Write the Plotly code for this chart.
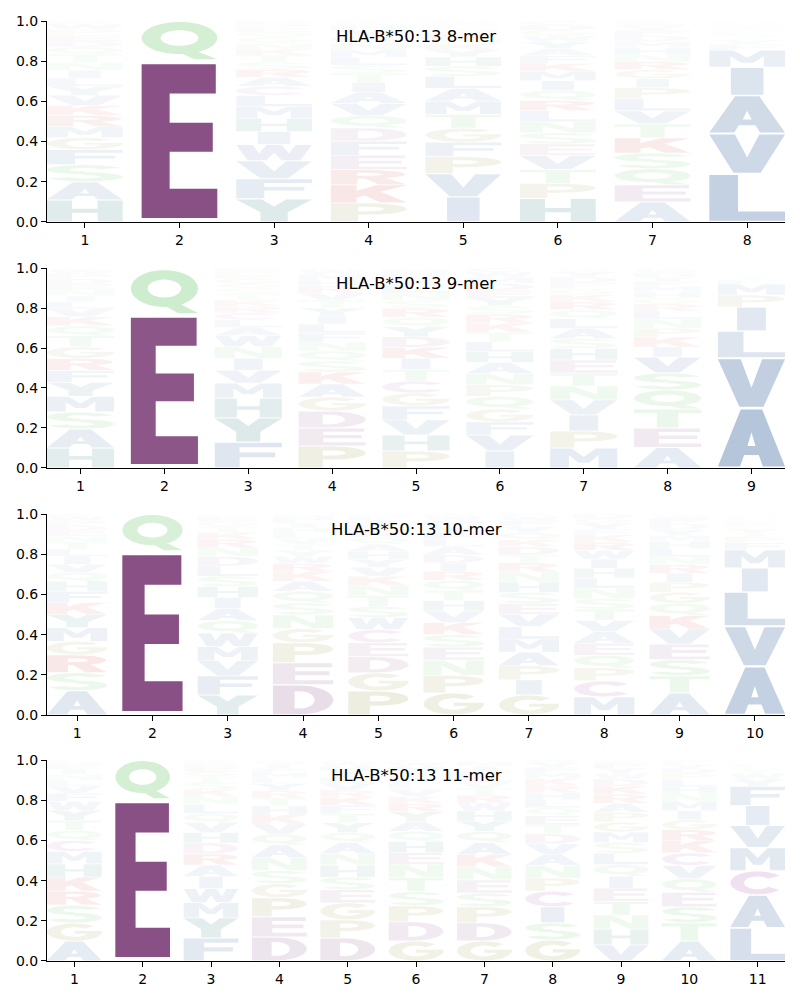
import numpy as np
import plotly.graph_objects as go

# ---------------- DATA (stack order bottom -> top) ----------------
mer8_letters = ["HASFGMRKVYLINTQDEPWC", "EQ", "YFVWIHMLCARSTKNGQEPD", "PKREFDQVAITSLMNGYHWC",
                "IVPFGTMALSHYKNRQEDWC", "HPTVESNLRQIMKFAYWGDC", "AEQSKTVLPIGRNHMDFYWC",
                "LVAIMFYTSKPWCDEGHNQR"]
mer8_freqs = [
    [0.11, 0.09, 0.085, 0.075, 0.06, 0.055, 0.055, 0.05, 0.05, 0.045, 0.04, 0.04, 0.04, 0.04, 0.035, 0.03, 0.03, 0.03, 0.025, 0.015],
    [0.805, 0.195],
    [0.115, 0.10, 0.09, 0.08, 0.065, 0.065, 0.06, 0.055, 0.045, 0.045, 0.04, 0.035, 0.035, 0.03, 0.03, 0.03, 0.025, 0.02, 0.02, 0.015],
    [0.095, 0.09, 0.075, 0.072, 0.07, 0.066, 0.062, 0.06, 0.055, 0.05, 0.045, 0.04, 0.04, 0.035, 0.035, 0.033, 0.03, 0.025, 0.012, 0.01],
    [0.125, 0.115, 0.085, 0.072, 0.07, 0.068, 0.066, 0.064, 0.06, 0.05, 0.046, 0.035, 0.03, 0.028, 0.025, 0.02, 0.015, 0.01, 0.01, 0.006],
    [0.117, 0.075, 0.07, 0.068, 0.058, 0.056, 0.055, 0.054, 0.052, 0.05, 0.048, 0.046, 0.04, 0.038, 0.036, 0.034, 0.03, 0.028, 0.025, 0.02],
    [0.1, 0.085, 0.08, 0.078, 0.075, 0.07, 0.065, 0.06, 0.055, 0.045, 0.045, 0.04, 0.035, 0.035, 0.03, 0.03, 0.025, 0.02, 0.015, 0.012],
    [0.24, 0.2, 0.19, 0.14, 0.085, 0.03, 0.02, 0.015, 0.012, 0.01, 0.01, 0.008, 0.005, 0.005, 0.005, 0.005, 0.005, 0.005, 0.005, 0.005],
]

mer9_letters = ["HASMYFRGTQKVLINEDPWC", "EQD", "FYHMVINWALCRKTSQGEPD", "PEDGAKSQNFLIYTVRHMWC",
                "PHVFGCTIKDYQRSNLAEMW", "IVFGQPNAHLTKRSYEDMWC", "MPIVNTEHSALQRKGFDYWC",
                "AETQSVIKPNLRGHMFYDWC", "AVLIPMFTYSCDEGHKNQRW"]
mer9_freqs = [
    [0.1, 0.095, 0.085, 0.078, 0.07, 0.06, 0.06, 0.058, 0.055, 0.05, 0.045, 0.04, 0.035, 0.03, 0.03, 0.03, 0.025, 0.025, 0.02, 0.009],
    [0.77, 0.225, 0.005],
    [0.13, 0.12, 0.099, 0.075, 0.065, 0.06, 0.058, 0.056, 0.04, 0.038, 0.035, 0.033, 0.03, 0.03, 0.028, 0.025, 0.025, 0.02, 0.018, 0.015],
    [0.11, 0.09, 0.085, 0.07, 0.065, 0.06, 0.055, 0.05, 0.045, 0.045, 0.045, 0.04, 0.04, 0.04, 0.035, 0.035, 0.03, 0.03, 0.02, 0.01],
    [0.085, 0.08, 0.075, 0.07, 0.065, 0.06, 0.058, 0.056, 0.055, 0.052, 0.05, 0.048, 0.045, 0.04, 0.038, 0.035, 0.032, 0.03, 0.02, 0.006],
    [0.085, 0.08, 0.065, 0.065, 0.063, 0.058, 0.056, 0.055, 0.054, 0.05, 0.048, 0.046, 0.044, 0.042, 0.04, 0.038, 0.034, 0.032, 0.025, 0.02],
    [0.1, 0.085, 0.08, 0.075, 0.07, 0.065, 0.065, 0.058, 0.05, 0.05, 0.048, 0.045, 0.04, 0.035, 0.03, 0.03, 0.03, 0.025, 0.012, 0.007],
    [0.102, 0.098, 0.095, 0.095, 0.085, 0.08, 0.05, 0.05, 0.045, 0.045, 0.04, 0.035, 0.03, 0.03, 0.03, 0.025, 0.02, 0.02, 0.015, 0.01],
    [0.3, 0.25, 0.135, 0.12, 0.06, 0.055, 0.02, 0.012, 0.01, 0.008, 0.003, 0.003, 0.003, 0.003, 0.003, 0.003, 0.003, 0.003, 0.003, 0.003],
]

mer10_letters = ["ASRGMYKFHQVILTNEDPWC", "EQ", "YFVMWQAIHSLDNRKTGEPC", "DEPGNSQAKRWYTVLHIFMC",
                 "PGDECWSTNKVYHAQRLIFM", "GPNESKVHTQRIDALFYMWC", "GIPAMLVESHNRTDKQYFWC",
                 "MCPQEAVTSNLHIWRKFYGD", "ATSEVKQGPIRNLHMYDFWC", "AVLIMFPTYSKRCDEGHNQW"]
mer10_freqs = [
    [0.121, 0.09, 0.088, 0.068, 0.068, 0.065, 0.06, 0.055, 0.05, 0.045, 0.04, 0.04, 0.035, 0.035, 0.03, 0.028, 0.025, 0.025, 0.02, 0.012],
    [0.815, 0.185],
    [0.1, 0.095, 0.075, 0.07, 0.068, 0.062, 0.06, 0.055, 0.054, 0.052, 0.05, 0.048, 0.045, 0.04, 0.035, 0.03, 0.025, 0.02, 0.012, 0.004],
    [0.15, 0.11, 0.1, 0.07, 0.068, 0.06, 0.058, 0.05, 0.048, 0.04, 0.035, 0.03, 0.03, 0.03, 0.028, 0.025, 0.022, 0.02, 0.018, 0.008],
    [0.12, 0.09, 0.08, 0.07, 0.065, 0.06, 0.055, 0.055, 0.05, 0.045, 0.045, 0.04, 0.04, 0.035, 0.035, 0.03, 0.03, 0.025, 0.02, 0.01],
    [0.11, 0.087, 0.076, 0.065, 0.062, 0.06, 0.058, 0.052, 0.05, 0.05, 0.045, 0.042, 0.04, 0.04, 0.035, 0.035, 0.03, 0.03, 0.02, 0.013],
    [0.1, 0.075, 0.07, 0.068, 0.065, 0.062, 0.06, 0.055, 0.055, 0.052, 0.05, 0.045, 0.04, 0.04, 0.035, 0.035, 0.03, 0.03, 0.02, 0.013],
    [0.09, 0.08, 0.065, 0.062, 0.06, 0.058, 0.056, 0.055, 0.054, 0.052, 0.05, 0.048, 0.046, 0.044, 0.04, 0.035, 0.03, 0.03, 0.025, 0.02],
    [0.11, 0.085, 0.08, 0.078, 0.075, 0.068, 0.06, 0.055, 0.05, 0.045, 0.042, 0.04, 0.04, 0.035, 0.03, 0.03, 0.03, 0.025, 0.015, 0.007],
    [0.242, 0.2, 0.17, 0.12, 0.09, 0.035, 0.03, 0.02, 0.02, 0.015, 0.012, 0.01, 0.0045, 0.0045, 0.0045, 0.0045, 0.0045, 0.0045, 0.0045, 0.0045],
]

mer11_letters = ["AGSRKHMCQTYWFVLNIEDP", "EQ", "FYMWIARDHVQLNKSTGEPC", "DEPGSNAQVKHTRYLMFIWC",
                 "DPGESHNAQYTFKRVLIMWC", "GDPSTNEHQAYRKVLFIMWC", "GDPSENKAQYHWRTVLFIMC",
                 "GSICPNAVDTEQLHRKMFYW", "VHNTEIQLSMGPARKDWYFC", "ATSEQVCKRGIMNHLPDYFW",
                 "LACMVIFYWTSPKDEGHNQR"]
mer11_freqs = [
    [0.099, 0.09, 0.089, 0.07, 0.07, 0.065, 0.062, 0.055, 0.05, 0.05, 0.05, 0.045, 0.04, 0.035, 0.03, 0.03, 0.025, 0.02, 0.015, 0.01],
    [0.805, 0.195],
    [0.115, 0.1, 0.075, 0.07, 0.06, 0.058, 0.055, 0.054, 0.052, 0.05, 0.045, 0.045, 0.04, 0.035, 0.035, 0.03, 0.025, 0.025, 0.02, 0.011],
    [0.12, 0.1, 0.095, 0.07, 0.065, 0.065, 0.062, 0.055, 0.05, 0.045, 0.045, 0.04, 0.035, 0.035, 0.03, 0.025, 0.02, 0.02, 0.015, 0.008],
    [0.115, 0.09, 0.085, 0.065, 0.062, 0.06, 0.058, 0.055, 0.05, 0.048, 0.045, 0.042, 0.04, 0.035, 0.035, 0.03, 0.03, 0.025, 0.02, 0.01],
    [0.1, 0.095, 0.08, 0.07, 0.07, 0.065, 0.06, 0.055, 0.05, 0.05, 0.048, 0.04, 0.035, 0.035, 0.03, 0.03, 0.03, 0.025, 0.02, 0.012],
    [0.1, 0.09, 0.08, 0.068, 0.066, 0.064, 0.062, 0.06, 0.055, 0.052, 0.05, 0.04, 0.038, 0.035, 0.03, 0.03, 0.025, 0.025, 0.02, 0.01],
    [0.105, 0.085, 0.08, 0.078, 0.065, 0.063, 0.055, 0.052, 0.05, 0.045, 0.045, 0.04, 0.04, 0.035, 0.035, 0.035, 0.03, 0.025, 0.022, 0.015],
    [0.08, 0.079, 0.07, 0.068, 0.065, 0.06, 0.058, 0.056, 0.054, 0.052, 0.05, 0.048, 0.045, 0.045, 0.04, 0.035, 0.03, 0.025, 0.025, 0.015],
    [0.1, 0.09, 0.08, 0.072, 0.068, 0.066, 0.062, 0.06, 0.055, 0.05, 0.045, 0.045, 0.04, 0.035, 0.035, 0.03, 0.025, 0.02, 0.015, 0.007],
    [0.165, 0.164, 0.12, 0.115, 0.11, 0.1, 0.095, 0.035, 0.03, 0.015, 0.012, 0.01, 0.008, 0.003, 0.003, 0.003, 0.003, 0.003, 0.003, 0.003],
]

allele = "HLA-B*50:13"
lengths = [8, 9, 10, 11]

# ---------------- GLYPH OUTLINES (unit box) ----------------
def ell(cx, cy, rx, ry, a0=0.0, a1=360.0, n=30):
    t = np.radians(np.linspace(a0, a1, n))
    return list(zip(cx + rx * np.cos(t), cy + ry * np.sin(t)))


def band(cx, cy, rxo, ryo, rxi, ryi, a0, a1, n=30):
    return ell(cx, cy, rxo, ryo, a0, a1, n) + ell(cx, cy, rxi, ryi, a1, a0, n)


def rect(x0, y0, x1, y1):
    return [(x0, y0), (x1, y0), (x1, y1), (x0, y1)]


GLYPHS = {
    'A': [([(0, 0), (0.33, 0), (0.39, 0.2), (0.61, 0.2), (0.67, 0), (1, 0), (0.66, 1), (0.34, 1)], False),
          ([(0.44, 0.36), (0.56, 0.36), (0.5, 0.6)], True)],
    'C': [(band(0.5, 0.5, 0.5, 0.5, 0.25, 0.28, 38, 322), False)],
    'D': [(rect(0, 0, 0.36, 1), False), (band(0.45, 0.5, 0.55, 0.5, 0.24, 0.3, -90, 90), False),
          (rect(0.3, 0, 0.46, 0.2), False), (rect(0.3, 0.8, 0.46, 1), False)],
    'E': [([(0, 0), (1, 0), (1, 0.19), (0.37, 0.19), (0.37, 0.43), (0.94, 0.43), (0.94, 0.62),
            (0.37, 0.62), (0.37, 0.81), (0.98, 0.81), (0.98, 1), (0, 1)], False)],
    'F': [([(0, 0), (0.37, 0), (0.37, 0.41), (0.9, 0.41), (0.9, 0.6), (0.37, 0.6), (0.37, 0.81),
            (1, 0.81), (1, 1), (0, 1)], False)],
    'G': [(band(0.5, 0.5, 0.5, 0.5, 0.25, 0.28, 45, 360), False), (rect(0.5, 0.4, 1.0, 0.56), False)],
    'H': [([(0, 0), (0.33, 0), (0.33, 0.41), (0.67, 0.41), (0.67, 0), (1, 0), (1, 1), (0.67, 1),
            (0.67, 0.6), (0.33, 0.6), (0.33, 1), (0, 1)], False)],
    'I': [(rect(0.285, 0, 0.715, 1), False)],
    'K': [(rect(0, 0, 0.34, 1), False),
          ([(0.34, 0.28), (1.0, 1.0), (0.6, 1.0), (0.34, 0.68)], False),
          ([(0.42, 0.45), (0.66, 0), (1, 0), (0.66, 0.62)], False)],
    'L': [([(0, 0), (1, 0), (1, 0.2), (0.38, 0.2), (0.38, 1), (0, 1)], False)],
    'M': [([(0, 0), (0.28, 0), (0.28, 0.65), (0.42, 0.25), (0.58, 0.25), (0.72, 0.65), (0.72, 0),
            (1, 0), (1, 1), (0.68, 1), (0.5, 0.55), (0.32, 1), (0, 1)], False)],
    'N': [([(0, 0), (0.3, 0), (0.3, 0.62), (0.66, 0), (1, 0), (1, 1), (0.7, 1), (0.7, 0.38),
            (0.34, 1), (0, 1)], False)],
    'P': [(rect(0, 0, 0.36, 1), False), (band(0.5, 0.69, 0.5, 0.31, 0.2, 0.12, -90, 90), False),
          (rect(0.3, 0.38, 0.51, 0.57), False), (rect(0.3, 0.81, 0.51, 1), False)],
    'Q': [(ell(0.5, 0.57, 0.5, 0.43, 0, 360, 40), False), (ell(0.5, 0.57, 0.25, 0.21, 0, 360, 40), True),
          ([(0.45, 0.22), (0.72, 0.22), (1.0, 0.0), (0.7, 0.0)], False)],
    'R': [(rect(0, 0, 0.35, 1), False), (band(0.5, 0.71, 0.48, 0.29, 0.18, 0.1, -90, 90), False),
          (rect(0.3, 0.42, 0.51, 0.61), False), (rect(0.3, 0.81, 0.51, 1), False),
          ([(0.42, 0.46), (0.72, 0.46), (1.0, 0), (0.64, 0)], False)],
    'S': [(band(0.5, 0.72, 0.5, 0.28, 0.2, 0.1, 20, 270), False),
          (band(0.5, 0.28, 0.5, 0.28, 0.2, 0.1, -160, 90), False)],
    'T': [([(0.34, 0), (0.66, 0), (0.66, 0.81), (1, 0.81), (1, 1), (0, 1), (0, 0.81), (0.34, 0.81)], False)],
    'V': [([(0, 1), (0.32, 0), (0.68, 0), (1, 1), (0.66, 1), (0.5, 0.4), (0.34, 1)], False)],
    'W': [([(0, 1), (0.15, 0), (0.4, 0), (0.5, 0.5), (0.6, 0), (0.85, 0), (1, 1), (0.78, 1),
            (0.7, 0.45), (0.6, 1), (0.4, 1), (0.3, 0.45), (0.22, 1)], False)],
    'Y': [([(0, 1), (0.32, 0.42), (0.32, 0), (0.68, 0), (0.68, 0.42), (1, 1), (0.66, 1),
            (0.5, 0.68), (0.34, 1)], False)],
}


def signed_area(pts):
    a = np.array(pts, dtype=float)
    x, y = a[:, 0], a[:, 1]
    return 0.5 * np.sum(x * np.roll(y, -1) - np.roll(x, -1) * y)


def oriented(pts, hole):
    s = signed_area(pts)
    if (s > 0) == hole:
        return pts[::-1]
    return pts


GLYPHS = {k: [(oriented(p, h), h) for p, h in v] for k, v in GLYPHS.items()}

BLUE = (58, 102, 158)
TEAL = (30, 115, 110)
PURPLE = (136, 80, 132)
MAGENTA = (150, 55, 150)
GREEN = (80, 190, 80)
OLIVE = (140, 140, 50)
RED = (205, 45, 45)
COLORS = {'A': BLUE, 'V': BLUE, 'L': BLUE, 'I': BLUE, 'M': BLUE, 'F': BLUE, 'W': BLUE,
          'H': TEAL, 'Y': TEAL, 'D': PURPLE, 'E': PURPLE, 'C': MAGENTA,
          'N': GREEN, 'Q': GREEN, 'S': GREEN, 'T': GREEN, 'G': OLIVE, 'P': OLIVE,
          'K': RED, 'R': RED}

GLYPH_W = 0.8
VPAD = 0.05
ALPHA_REF = 0.8


def glyph_path(letter, xc, ybot, h):
    pad = h * VPAD / 2
    y0, hh = ybot + pad, h - 2 * pad
    x0 = xc - GLYPH_W / 2
    segs = []
    for pts, _ in GLYPHS[letter]:
        coords = ["%.4f,%.5f" % (x0 + u * GLYPH_W, y0 + v * hh) for u, v in pts]
        segs.append("M" + "L".join(coords) + "Z")
    return "".join(segs)


# ---------------- FIGURE ----------------
panels = [(8, mer8_letters, mer8_freqs), (9, mer9_letters, mer9_freqs),
          (10, mer10_letters, mer10_freqs), (11, mer11_letters, mer11_freqs)]
domains = [(0.7862, 1.0), (0.5245, 0.7372), (0.2617, 0.4755), (0.0, 0.2138)]

fig = go.Figure()
shapes = []
annotations = []
axis_font = dict(family="DejaVu Sans", size=14, color="black")

for i, (n, letters, freqs) in enumerate(panels):
    k = "" if i == 0 else str(i + 1)
    xref, yref = "x" + k, "y" + k
    positions = list(range(1, n + 1))
    fig.add_trace(go.Scatter(x=positions, y=[0] * n, mode="markers", marker=dict(opacity=0),
                             hoverinfo="skip", showlegend=False, xaxis=xref, yaxis=yref))
    for pos, lets, fs in zip(positions, letters, freqs):
        order = sorted(zip(lets, fs), key=lambda t: -t[1])
        ybot = 0.0
        for let, f in order:
            if f <= 0:
                continue
            r, g, b = COLORS[let]
            alpha = min(1.0, f / ALPHA_REF)
            shapes.append(dict(type="path", path=glyph_path(let, pos, ybot, f), xref=xref, yref=yref,
                               fillcolor="rgba(%d,%d,%d,%.3f)" % (r, g, b, alpha), fillrule="nonzero",
                               line=dict(width=0), layer="below"))
            ybot += f
    annotations.append(dict(text="%s %d-mer" % (allele, n), xref=xref + " domain", yref=yref + " domain",
                            x=0.5, y=0.925, showarrow=False, xanchor="center", yanchor="middle",
                            font=dict(family="DejaVu Sans", size=16.5, color="black")))
    common = dict(showline=True, linecolor="black", linewidth=1, ticks="outside", ticklen=5, tickwidth=1,
                  tickcolor="black", showgrid=False, zeroline=False, tickfont=axis_font, mirror=False)
    fig.layout["xaxis" + k] = dict(domain=[0, 1], range=[0.6, n + 0.4], tickmode="array",
                                   tickvals=positions, ticktext=[str(p) for p in positions],
                                   anchor=yref, **common)
    fig.layout["yaxis" + k] = dict(domain=list(domains[i]), range=[0, 1], tickmode="array",
                                   tickvals=[0, 0.2, 0.4, 0.6, 0.8, 1.0],
                                   ticktext=["0.0", "0.2", "0.4", "0.6", "0.8", "1.0"],
                                   anchor=xref, **common)

fig.update_layout(width=800, height=1000, margin=dict(l=47, r=15, t=21, b=39),
                  paper_bgcolor="white", plot_bgcolor="white", shapes=shapes, annotations=annotations,
                  showlegend=False)
fig.write_html("out.html")
